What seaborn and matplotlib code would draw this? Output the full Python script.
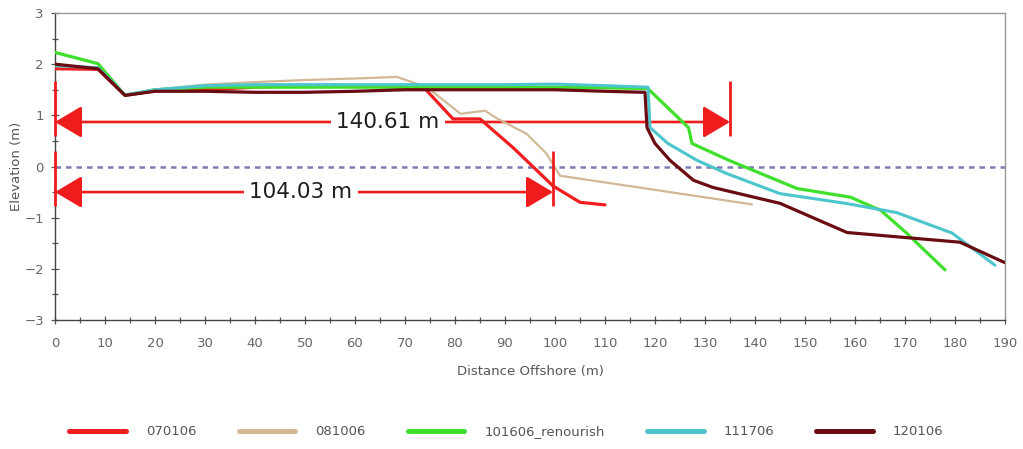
import matplotlib
matplotlib.use("Agg")
import matplotlib.pyplot as plt
import numpy as np
import pandas as pd
import seaborn as sns
from matplotlib.ticker import MultipleLocator

# Beach profile surveys: distance offshore (m) and elevation (m)
dist_070106 = [0, 8.6, 14, 20, 30, 40, 50, 60, 67, 74, 79.6, 85, 91.6, 99.6, 105, 110]
elev_070106 = [1.91, 1.90, 1.39, 1.48, 1.5, 1.55, 1.58, 1.58, 1.56, 1.52, 0.93, 0.93, 0.37, -0.38, -0.70, -0.75]

dist_081006 = [0, 8.6, 14, 20, 30, 40, 50, 60, 68.4, 74.4, 81.1, 86, 88.4, 94.3, 98.3, 101, 139.4]
elev_081006 = [1.97, 1.93, 1.40, 1.50, 1.60, 1.65, 1.69, 1.72, 1.75, 1.55, 1.03, 1.09, 0.94, 0.64, 0.25, -0.18, -0.74]

dist_101606 = [0, 8.6, 14, 20, 30, 40, 50, 60, 70, 80, 90, 100, 110, 118.6, 126.7, 127.4, 134.8, 148.4, 159.1, 165.2, 170.3, 178]
elev_101606 = [2.23, 2.01, 1.39, 1.50, 1.55, 1.55, 1.55, 1.55, 1.55, 1.55, 1.55, 1.55, 1.54, 1.52, 0.76, 0.45, 0.12, -0.43, -0.60, -0.86, -1.30, -2.02]

dist_111706 = [0, 8.6, 14, 20, 30, 40, 50, 60, 70, 80, 90, 100, 110, 118.6, 119, 122.6, 128.4, 134.4, 145, 158.1, 168.3, 179.4, 188]
elev_111706 = [1.97, 1.93, 1.40, 1.50, 1.58, 1.60, 1.60, 1.60, 1.60, 1.60, 1.60, 1.61, 1.58, 1.55, 0.76, 0.45, 0.12, -0.14, -0.53, -0.72, -0.90, -1.30, -1.93]

dist_120106 = [0, 8.6, 14, 20, 30, 40, 50, 60, 70, 80, 90, 100, 110, 118, 118.4, 120, 123, 127.7, 131.6, 145, 158.4, 181, 190]
elev_120106 = [2.0, 1.91, 1.39, 1.47, 1.47, 1.45, 1.45, 1.47, 1.50, 1.50, 1.50, 1.50, 1.47, 1.45, 0.76, 0.45, 0.12, -0.27, -0.41, -0.72, -1.29, -1.48, -1.88]

survey_labels = ["070106", "081006", "101606_renourish", "111706", "120106"]
survey_colors = ["#f01e1e", "#d2b896", "#3fe02c", "#4cc6cc", "#6a0d12"]
survey_widths = [2.3, 1.6, 2.3, 2.2, 2.3]

# Shoreline-distance markers: arrow end (m), arrow elevation (m), label
marker_end = [135.0, 99.6]
marker_elev = [0.87, -0.50]
marker_text = ["140.61 m", "104.03 m"]
marker_text_x = [66.6, 49.2]

frames = []
for lab, xs, ys in zip(survey_labels,
                       [dist_070106, dist_081006, dist_101606, dist_111706, dist_120106],
                       [elev_070106, elev_081006, elev_101606, elev_111706, elev_120106]):
    frames.append(pd.DataFrame({"Distance": xs, "Elevation": ys, "Survey": lab}))
profiles = pd.concat(frames, ignore_index=True)

sns.set_style("white")
plt.rcParams["font.family"] = ["DejaVu Sans"]

fig = plt.figure(figsize=(10.23, 4.49), dpi=100)
ax = fig.add_axes([55 / 1023, 1 - 320 / 449, 950 / 1023, 307 / 449])

# Mean water level
ax.axhline(0, color="#7c7cb4", lw=1.8, ls=(0, (2.2, 2.0)), zorder=1)

sns.lineplot(data=profiles, x="Distance", y="Elevation", hue="Survey",
             hue_order=survey_labels, palette=dict(zip(survey_labels, survey_colors)),
             sort=False, estimator=None, lw=2.2, ax=ax, zorder=3)

for line, w in zip(ax.get_lines()[1:6], survey_widths):
    line.set_linewidth(w)

handles, labels = ax.get_legend_handles_labels()
ax.get_legend().remove()

# Shoreline distance arrows
mred = "#ee1c1c"
for xe, ye, txt, tx in zip(marker_end, marker_elev, marker_text, marker_text_x):
    ax.annotate("", xy=(0, ye), xytext=(xe, ye),
                arrowprops=dict(arrowstyle="<|-|>,head_length=0.37,head_width=0.22",
                                mutation_scale=45, color=mred, lw=1.9,
                                shrinkA=0, shrinkB=0),
                zorder=2.2, annotation_clip=False)
    for xb in (0, xe):
        ax.plot([xb, xb], [ye + 0.81, ye - 0.27], color=mred, lw=2.0,
                solid_capstyle="butt", clip_on=False, zorder=4)
    ax.text(tx, ye, txt, ha="center", va="center", fontsize=15.5, color="#1e1e1e",
            bbox=dict(boxstyle="square,pad=0.25", fc="white", ec="none"), zorder=2.5)

ax.set_xlim(0, 190)
ax.set_ylim(-3, 3)
ax.xaxis.set_major_locator(MultipleLocator(10))
ax.xaxis.set_minor_locator(MultipleLocator(5))
ax.yaxis.set_major_locator(MultipleLocator(1))
ax.yaxis.set_minor_locator(MultipleLocator(0.5))
ax.tick_params(axis="both", which="both", direction="inout", color="#555555",
               bottom=True, left=True, top=False, right=False)
ax.tick_params(axis="both", which="major", length=6, width=0.9,
               labelsize=9.5, labelcolor="#666666")
ax.tick_params(axis="both", which="minor", length=5, width=0.9)
ax.tick_params(axis="x", which="major", pad=9)
ax.tick_params(axis="y", which="major", pad=5)

ax.set_xlabel("Distance Offshore (m)", fontsize=9.5, color="#555555", labelpad=11)
ax.set_ylabel("Elevation (m)", fontsize=9.5, color="#555555", labelpad=1)

for side in ("left", "bottom"):
    ax.spines[side].set_color("#444444")
    ax.spines[side].set_linewidth(1.0)
for side in ("top", "right"):
    ax.spines[side].set_color("#999999")
    ax.spines[side].set_linewidth(1.0)

leg = fig.legend(handles, labels, loc="center", bbox_to_anchor=(0.495, 0.038),
                 ncol=5, frameon=False, handlelength=4.3, handletextpad=1.5,
                 columnspacing=3.2, fontsize=9.5)
for h in leg.get_lines():
    h.set_linewidth(3.6)
for t in leg.get_texts():
    t.set_color("#555555")

fig.savefig("out.png", dpi=100)
